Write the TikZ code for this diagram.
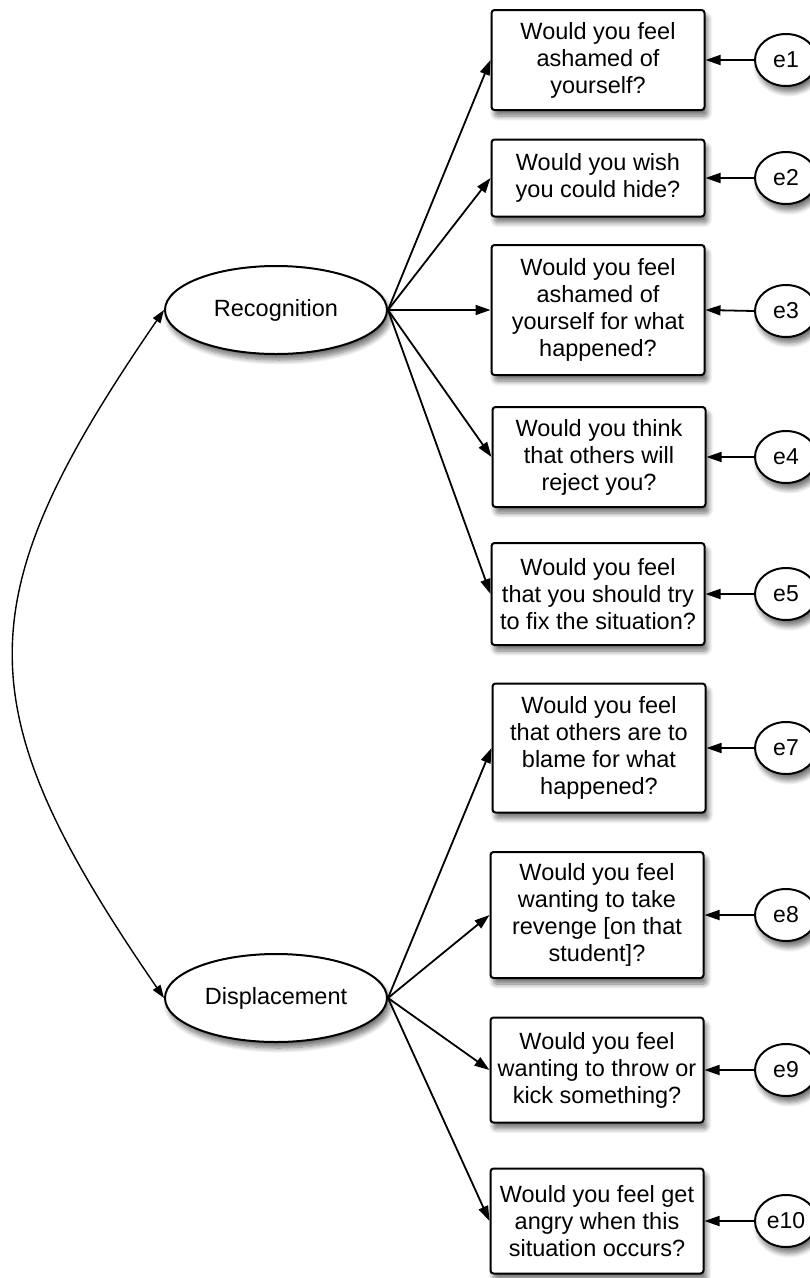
\documentclass[tikz,border=0pt]{standalone}
\usepackage{fontspec}
\setmainfont{Liberation Sans}
\usetikzlibrary{arrows.meta,shapes.geometric,shadows.blur}
\begin{document}
\begin{tikzpicture}[x=1pt,y=-1pt,
  every node/.style={font=\fontsize{23.5}{27}\selectfont},
  shad/.style={blur shadow={shadow xshift=3pt,shadow yshift=-6pt,shadow blur steps=8,shadow opacity=55,shadow blur radius=5pt}},
  qbox/.style={draw, line width=2pt, rounded corners=3pt, fill=white, align=center,
    minimum width=213pt, inner sep=0pt, shad},
  lat/.style={ellipse, draw, line width=2pt, fill=white, minimum width=222pt,
    minimum height=88pt, inner sep=0pt, shad},
  err/.style={ellipse, draw, line width=2pt, fill=white, minimum width=62pt,
    minimum height=52pt, inner sep=0pt, font=\fontsize{23}{27}\selectfont, shad},
  arr/.style={line width=1.8pt, -{Triangle[length=15pt,width=10pt]}},
  cov/.style={line width=1.4pt, {Triangle[length=13pt,width=9pt]}-{Triangle[length=13pt,width=9pt]}},
]
\useasboundingbox (0,0) rectangle (810,1278);

\node[lat] (rec) at (276,310) {Recognition};
\node[lat] (dis) at (276,998) {Displacement};

\node[qbox, minimum height=100pt] (b1) at (598,60) {Would you feel\\ashamed of\\yourself?};
\node[qbox, minimum height=77pt] (b2) at (598,178) {Would you wish\\you could hide?};
\node[qbox, minimum height=130pt] (b3) at (598,310) {Would you feel\\ashamed of\\yourself for what\\happened?};
\node[qbox, minimum height=100pt] (b4) at (599,457) {Would you think\\that others will\\reject you?};
\node[qbox, minimum height=102pt] (b5) at (598,594) {Would you feel\\that you should try\\to fix the situation?};
\node[qbox, minimum height=129pt] (b7) at (599,748) {Would you feel\\that others are to\\blame for what\\happened?};
\node[qbox, minimum height=126pt] (b8) at (597,915) {Would you feel\\wanting to take\\revenge [on that\\student]?};
\node[qbox, minimum height=105pt] (b9) at (597,1070) {Would you feel\\wanting to throw or\\kick something?};
\node[qbox, minimum height=105pt] (b10) at (597,1221) {Would you feel get\\angry when this\\situation occurs?};

\node[err] (e1) at (786,60) {e1};
\node[err] (e2) at (786,178) {e2};
\node[err] (e3) at (786,311) {e3};
\node[err] (e4) at (786,457) {e4};
\node[err] (e5) at (786,594) {e5};
\node[err] (e7) at (786,748) {e7};
\node[err] (e8) at (786,915) {e8};
\node[err] (e9) at (786,1070) {e9};
\node[err] (e10) at (786,1221) {e10};

\foreach \b in {b1,b2,b3,b4,b5} \draw[arr] (rec.east) -- (\b.west);
\foreach \b in {b7,b8,b9,b10} \draw[arr] (dis.east) -- (\b.west);
\foreach \e/\b in {e1/b1,e2/b2,e3/b3,e4/b4,e5/b5,e7/b7,e8/b8,e9/b9,e10/b10}
  \draw[arr] (\e.west) -- (\b.east);

\draw[cov] (rec.west) .. controls +(-200,291) and +(-200,-291) .. (dis.west);
\end{tikzpicture}
\end{document}
